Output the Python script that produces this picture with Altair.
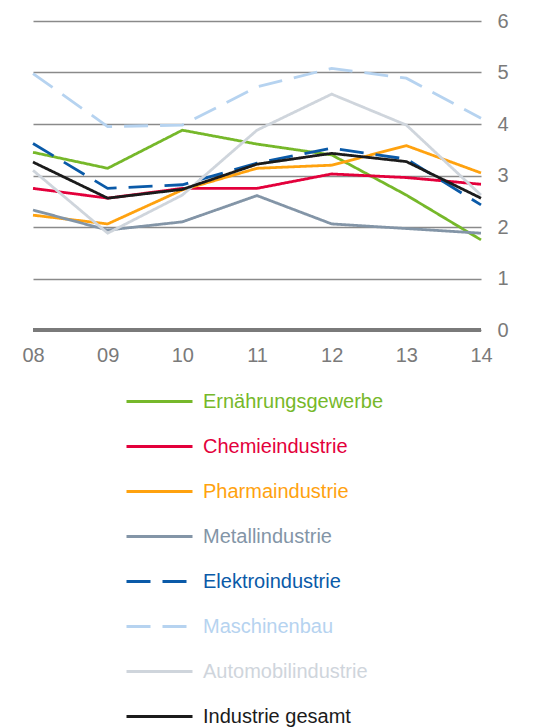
import altair as alt
import pandas as pd

years = ["08", "09", "10", "11", "12", "13", "14"]
series_names = ["Ernährungsgewerbe", "Chemieindustrie", "Pharmaindustrie", "Metallindustrie",
                "Elektroindustrie", "Maschinenbau", "Automobilindustrie", "Industrie gesamt"]
ernaehrung = [3.45, 3.14, 3.88, 3.61, 3.40, 2.62, 1.75]
chemie = [2.75, 2.56, 2.75, 2.75, 3.03, 2.96, 2.83]
pharma = [2.23, 2.06, 2.72, 3.14, 3.20, 3.58, 3.05]
metall = [2.33, 1.94, 2.10, 2.61, 2.06, 1.97, 1.88]
elektro = [3.62, 2.75, 2.82, 3.24, 3.53, 3.32, 2.43]
maschinen = [4.98, 3.95, 3.98, 4.72, 5.08, 4.89, 4.11]
auto = [3.10, 1.88, 2.62, 3.88, 4.58, 3.98, 2.62]
gesamt = [3.26, 2.56, 2.73, 3.22, 3.43, 3.27, 2.56]
y_ticks = [0, 1, 2, 3, 4, 5, 6]

colors = ["#76b82a", "#e3003b", "#ffa20f", "#8395a7", "#0a5aa8", "#b6d3f0", "#cfd5dc", "#1b1b1b"]
dashes = [[1, 0], [1, 0], [1, 0], [1, 0], [24, 12], [24, 12], [1, 0], [1, 0]]

all_vals = [ernaehrung, chemie, pharma, metall, elektro, maschinen, auto, gesamt]
rows = []
for name, vals in zip(series_names, all_vals):
    for yr, v in zip(years, vals):
        rows.append({"year": yr, "value": v, "series": name})
df = pd.DataFrame(rows)

zero_df = pd.DataFrame({"value": [0]})

base_font = "Liberation Sans"


def make_legend():
    return alt.Legend(title=None, orient="none", legendX=92, legendY=346,
                      direction="vertical", symbolType="stroke",
                      symbolSize=4356, symbolStrokeWidth=3,
                      labelFontSize=20, labelFont=base_font, labelLimit=400,
                      labelColor=alt.ExprRef("scale('color', datum.value)"),
                      labelOffset=9, rowPadding=0)


lines = alt.Chart(df).mark_line(strokeWidth=2.8).encode(
    x=alt.X("year:N", sort=years, scale=alt.Scale(type="point", padding=0),
            axis=alt.Axis(title=None, ticks=False, domain=False, grid=False, labelAngle=0,
                          labelFontSize=20, labelFont=base_font, labelColor="#7a7a7a",
                          labelPadding=15)),
    y=alt.Y("value:Q", scale=alt.Scale(domain=[0, 6], nice=False),
            axis=alt.Axis(title=None, orient="right", values=y_ticks, ticks=False, domain=False,
                          grid=True, gridColor="#8a8a8a", gridWidth=1.5,
                          labelFontSize=20, labelFont=base_font, labelColor="#7a7a7a",
                          labelPadding=16)),
    color=alt.Color("series:N", sort=series_names,
                    scale=alt.Scale(domain=series_names, range=colors),
                    legend=make_legend()),
    strokeDash=alt.StrokeDash("series:N", sort=series_names,
                              scale=alt.Scale(domain=series_names, range=dashes),
                              legend=make_legend()),
)

zero = alt.Chart(zero_df).mark_rule(color="#7a7a7a", strokeWidth=4).encode(y="value:Q")

chart = alt.layer(lines, zero).properties(
    width=448, height=309,
    autosize=alt.AutoSizeParams(type="none"),
    padding={"left": 25, "top": 13, "right": 40, "bottom": 397},
).configure_view(stroke=None)

chart.save("out.html", embed_options={"renderer": "svg", "actions": False})
